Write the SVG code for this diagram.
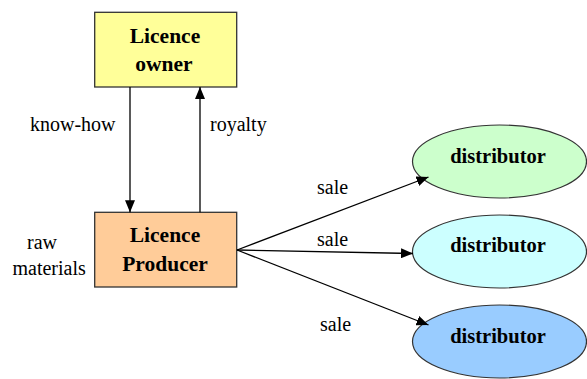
<svg xmlns="http://www.w3.org/2000/svg" width="587" height="379" viewBox="0 0 587 379">
  <defs>
    <marker id="arrow" viewBox="0 0 12 10" refX="12" refY="5" markerWidth="12" markerHeight="10" markerUnits="userSpaceOnUse" orient="auto">
      <path d="M0,0 L12,5 L0,10 Z" fill="#000"/>
    </marker>
  </defs>

  <rect width="587" height="379" fill="#fff"/>

  <!-- rectangular nodes -->
  <g id="licence-owner">
    <rect x="94.7" y="12.3" width="142" height="74.7" fill="#FFFF99" stroke="#333" stroke-width="1.3"/>
    <text font-family="Liberation Serif" font-size="21.5" font-weight="bold" text-anchor="middle" x="165" y="43">Licence</text>
    <text font-family="Liberation Serif" font-size="21.5" font-weight="bold" text-anchor="middle" x="164" y="70.5">owner</text>
  </g>

  <g id="licence-producer">
    <rect x="94.7" y="212.3" width="142" height="74.7" fill="#FFCC99" stroke="#333" stroke-width="1.3"/>
    <text font-family="Liberation Serif" font-size="21.5" font-weight="bold" text-anchor="middle" x="165" y="242">Licence</text>
    <text font-family="Liberation Serif" font-size="21.5" font-weight="bold" text-anchor="middle" x="165" y="270.5">Producer</text>
  </g>

  <!-- elliptical distributor nodes -->
  <g id="distributor-1">
    <ellipse cx="499.5" cy="161.5" rx="87" ry="36.5" fill="#CCFFCC" stroke="#333" stroke-width="1.2"/>
    <text font-family="Liberation Serif" font-size="20.5" font-weight="bold" text-anchor="middle" x="498" y="163">distributor</text>
  </g>

  <g id="distributor-2">
    <ellipse cx="499.5" cy="251.5" rx="87" ry="36.5" fill="#CCFFFF" stroke="#333" stroke-width="1.2"/>
    <text font-family="Liberation Serif" font-size="20.5" font-weight="bold" text-anchor="middle" x="498" y="252">distributor</text>
  </g>

  <g id="distributor-3">
    <ellipse cx="499.5" cy="341.5" rx="87" ry="36.5" fill="#99CCFF" stroke="#333" stroke-width="1.2"/>
    <text font-family="Liberation Serif" font-size="20.5" font-weight="bold" text-anchor="middle" x="498" y="343">distributor</text>
  </g>

  <g id="raw-materials">
    <text font-family="Liberation Serif" font-size="20" x="27" y="249">raw</text>
    <text font-family="Liberation Serif" font-size="20" x="12.5" y="275">materials</text>
  </g>

  <!-- connectors and their labels -->
  <g id="connectors" stroke="#000" stroke-width="1.3" fill="none" marker-end="url(#arrow)">
    <line x1="130" y1="87" x2="130" y2="212.3"/>
    <line x1="200" y1="212.3" x2="200" y2="87"/>
    <line x1="237" y1="250" x2="428.5" y2="177"/>
    <line x1="237" y1="250" x2="413" y2="253.5"/>
    <line x1="237" y1="250" x2="428.5" y2="325"/>
  </g>
  <g id="connector-labels">
    <text font-family="Liberation Serif" font-size="20" x="30" y="130.5">know-how</text>
    <text font-family="Liberation Serif" font-size="20" x="210" y="130.5">royalty</text>
    <text font-family="Liberation Serif" font-size="20" x="317" y="194">sale</text>
    <text font-family="Liberation Serif" font-size="20" x="317" y="246">sale</text>
    <text font-family="Liberation Serif" font-size="20" x="320" y="331">sale</text>
  </g>
</svg>
